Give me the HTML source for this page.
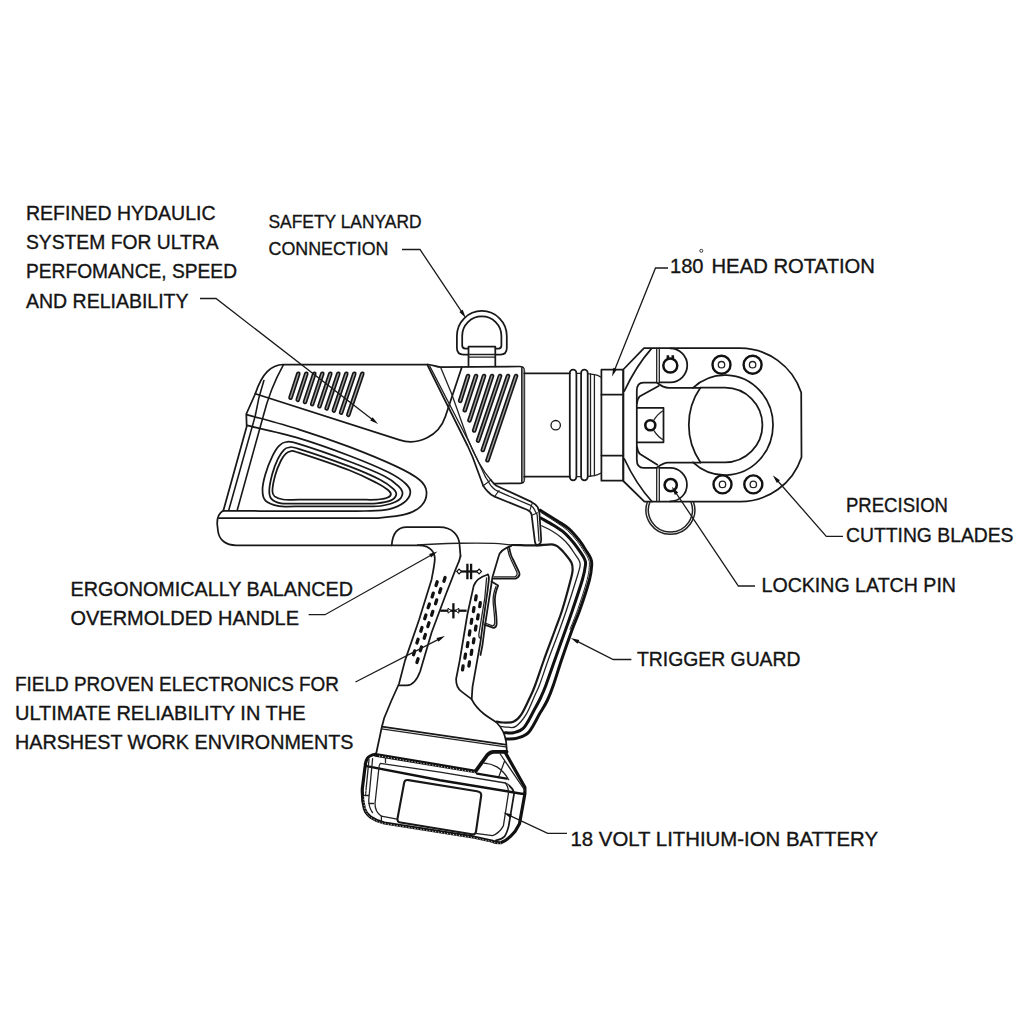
<!DOCTYPE html>
<html>
<head>
<meta charset="utf-8">
<title>Tool diagram</title>
<style>
html,body{margin:0;padding:0;background:#fff;}
body{width:1024px;height:1024px;overflow:hidden;font-family:"Liberation Sans",sans-serif;}
svg{display:block;}
text{font-family:"Liberation Sans",sans-serif;fill:#141414;stroke:#141414;stroke-width:0.35px;}
.ld{fill:none;stroke:#1a1a1a;stroke-width:1.3;}
.ah{fill:#111;stroke:none;}
.o{fill:none;stroke:#181818;stroke-width:1.75;stroke-linecap:round;stroke-linejoin:round;}
.t{fill:none;stroke:#222;stroke-width:1.3;stroke-linecap:round;stroke-linejoin:round;}
.k{fill:none;stroke:#111;stroke-width:2.6;stroke-linecap:round;stroke-linejoin:round;}
.w{fill:#fff;}
</style>
</head>
<body>
<svg width="1024" height="1024" viewBox="0 0 1024 1024">
<rect x="0" y="0" width="1024" height="1024" fill="#ffffff"/>

<!-- ===== LABELS ===== -->
<g id="labels" font-size="20">
<text x="26" y="220" textLength="189.500" lengthAdjust="spacingAndGlyphs">REFINED HYDAULIC</text>
<text x="26" y="249.200" textLength="192.500" lengthAdjust="spacingAndGlyphs">SYSTEM FOR ULTRA</text>
<text x="26" y="278.400" textLength="211" lengthAdjust="spacingAndGlyphs">PERFOMANCE, SPEED</text>
<text x="26" y="307.600" textLength="162.500" lengthAdjust="spacingAndGlyphs">AND RELIABILITY</text>

<text x="268.500" y="228" font-size="19" textLength="153" lengthAdjust="spacingAndGlyphs">SAFETY LANYARD</text>
<text x="268.500" y="254.500" font-size="19" textLength="120" lengthAdjust="spacingAndGlyphs">CONNECTION</text>

<text x="670" y="273" font-size="21" textLength="33.500" lengthAdjust="spacingAndGlyphs">180</text>
<text x="711.500" y="273" font-size="21" textLength="163.500" lengthAdjust="spacingAndGlyphs">HEAD ROTATION</text>

<text x="846" y="512" textLength="102" lengthAdjust="spacingAndGlyphs">PRECISION</text>
<text x="846" y="541.500" textLength="167.500" lengthAdjust="spacingAndGlyphs">CUTTING BLADES</text>
<text x="761.500" y="591.600" textLength="194.500" lengthAdjust="spacingAndGlyphs">LOCKING LATCH PIN</text>
<text x="637" y="666.200" textLength="163.500" lengthAdjust="spacingAndGlyphs">TRIGGER GUARD</text>

<text x="70.500" y="596" textLength="282.500" lengthAdjust="spacingAndGlyphs">ERGONOMICALLY BALANCED</text>
<text x="70.500" y="624.800" textLength="228.500" lengthAdjust="spacingAndGlyphs">OVERMOLDED HANDLE</text>

<text x="15" y="690.900" textLength="324" lengthAdjust="spacingAndGlyphs">FIELD PROVEN ELECTRONICS FOR</text>
<text x="15" y="719.600" textLength="290.500" lengthAdjust="spacingAndGlyphs">ULTIMATE RELIABILITY IN THE</text>
<text x="15" y="748.500" textLength="338.500" lengthAdjust="spacingAndGlyphs">HARSHEST WORK ENVIRONMENTS</text>

<text x="570.500" y="845.600" textLength="307.500" lengthAdjust="spacingAndGlyphs">18 VOLT LITHIUM-ION BATTERY</text>
</g>
<circle cx="701.300" cy="250.800" r="1.500" fill="none" stroke="#222" stroke-width="0.900"/>


<!-- ===== TOOL ===== -->
<g id="tool">
<!-- ===== REAR HOUSING ===== -->
<g id="rear">
<path class="o" d="M428,364.500 L283.500,364.500 C271,365 262,373 255.300,393.750 L246.300,414 L246.700,426.500 L223.400,510.500"/>
<path class="o" d="M223.400,510.500 C219,513 217,518 217.200,524 L218,531 C219,540 226,545.300 236,545.300 L420.600,545.300"/>
<path class="o" style="stroke-width:1.600" d="M263.900,380.500 C259,395 257,405 255.300,415.600 L228.800,510"/>
<path class="o" style="stroke-width:1.600" d="M283.400,364.800 C272,385 266,405 263,417 L237.300,510"/>
<!-- upper ridge + big arc -->
<path class="o" d="M255.300,393.750 L399.300,439.900 A36.600,36.600 0 0 0 445.300,416.700 L461.800,367.300"/>
<!-- raised panel outline + rail line 2 -->
<path class="o" d="M246.8,414.6 C255.4,417.1 281.5,423.9 298.6,429.3 C315.7,434.7 333.1,440.7 349.4,446.9 C365.7,453.1 384.5,460.9 396.2,466.4 C408,471.9 414.7,475.8 419.7,480 C424.7,484.2 426.2,487.6 426.5,491.8 C426.8,496.1 425,501.8 421.6,505.5 C418.2,509.2 412.9,512.2 406,514.2 C399.1,516.3 389.3,517.1 380,517.8 C370.7,518.5 363.3,518.1 350,518.2 C336.7,518.3 315,518.2 300,518.2 C285,518.2 273.5,518.2 260,518.2 C246.5,518.2 225.8,518.2 219,518.2"/>
<!-- W4 + rail top -->
<path class="o" d="M246.8,425.4 C255.4,427.5 281.5,433.1 298.6,438.1 C315.7,443.2 334.4,450 349.4,455.7 C364.4,461.4 379.1,467.6 388.5,472.3 C397.9,477 402.4,480.6 406,484 C409.6,487.4 410.6,489.7 410.3,492.8 C410,495.9 407.6,499.7 404,502.5 C400.4,505.3 394.9,508 388.4,509.4 C381.9,510.8 373.1,510.7 365,511 C356.9,511.3 350.8,511 340,511 C329.2,511 313.3,511 300,511 C286.7,511 272.8,511 260,511 C247.2,511 229.5,510.8 223.4,510.8"/>
<!-- W3 -->
<path class="o" d="M262.5,489.8 C262.5,485.4 263.8,479.7 265.4,474.2 C267,468.7 269.9,461.3 272.2,456.6 C274.5,451.9 276.7,448.3 279,445.9 C281.3,443.5 282.6,442.3 285.9,442 C289.2,441.7 288,440.6 298.6,443.9 C309.2,447.1 335.1,456.1 349.4,461.5 C363.7,466.9 376.4,472.1 384.5,476.2 C392.6,480.3 395.2,483 398.2,485.9 C401.2,488.8 402.8,491.1 402.5,493.8 C402.2,496.4 399.9,499.6 396.2,501.6 C392.6,503.6 385.8,505.2 380.6,506 C375.4,506.8 373.4,506.3 365,506.4 C356.6,506.5 341.7,506.4 330,506.4 C318.3,506.4 303.5,506.4 295,506.4 C286.5,506.4 283.9,507.2 279,506.2 C274.1,505.2 268.1,503.3 265.4,500.6 C262.6,497.9 262.5,494.2 262.5,489.8 Z"/>
<!-- W2 -->
<path class="o" d="M269.3,489.8 C269.5,485.7 270.8,479.4 272.2,474.2 C273.6,469 276,462.7 278,458.6 C280,454.5 282.2,451.7 284,449.8 C285.8,447.9 286.4,447.7 288.8,447.5 C291.2,447.3 288.5,445.7 298.6,448.8 C308.7,451.9 335.7,461.2 349.4,466.4 C363.1,471.6 373.3,476.2 380.6,480 C387.9,483.8 390.7,486.4 393.3,488.9 C395.9,491.3 396.7,492.8 396.2,494.7 C395.8,496.6 393.7,499.2 390.4,500.6 C387.1,502 381.8,502.8 376.7,503.3 C371.6,503.8 367.8,503.5 360,503.5 C352.2,503.5 340.5,503.5 330,503.5 C319.5,503.5 305.2,503.5 297,503.5 C288.8,503.5 285.3,504.1 281,503.3 C276.7,502.5 273.2,500.9 271.2,498.6 C269.3,496.4 269.1,493.9 269.3,489.8 Z"/>
<!-- W1 -->
<path class="o" d="M272.4,490.8 C272.5,487.3 273.8,480.2 275.2,475.2 C276.6,470.1 279.2,464.1 281,460.5 C282.8,456.9 284.3,455.2 285.9,453.7 C287.5,452.2 288.3,451.6 290.4,451.4 C292.5,451.2 288.8,449.5 298.6,452.7 C308.4,455.9 336.3,465.2 349.4,470.3 C362.4,475.4 370.6,479.8 376.9,483 C383.2,486.2 385.1,487.7 387.4,489.5 C389.7,491.3 390.9,492.6 390.9,494 C390.9,495.4 389.5,496.9 387.2,497.8 C384.9,498.7 381.4,499.3 376.9,499.6 C372.4,499.9 367.8,499.7 360,499.7 C352.2,499.7 340.2,499.7 330,499.7 C319.8,499.7 306.8,499.7 299,499.7 C291.2,499.7 287.1,500.1 283,499.5 C278.9,498.9 276.4,497.8 274.6,496.4 C272.8,494.9 272.3,494.3 272.4,490.8 Z"/>
<!-- bump above handle -->
<path class="o" d="M391.700,545.300 C392.500,535 397,527.200 406.600,527.200 L439.400,527.200 C452,527.200 459.700,535 459.700,546.600 L460.500,556"/>
<!-- rear vents -->
<g id="rvents">
<path d="M298.3,373.8 L290.5,397.7 M306.3,373.8 L297.73,399.84 M314.3,373.8 L304.95,401.98 M322.3,373.8 L312.18,404.12 M330.3,373.8 L319.4,406.26 M338.3,373.8 L326.62,408.4 M346.3,373.8 L333.85,410.54 M354.3,373.8 L341.07,412.68 M362.3,373.8 L348.3,414.82" fill="none" stroke="#161616" stroke-width="4.6" stroke-linecap="round"/>
<path d="M298.3,373.8 L290.5,397.7 M306.3,373.8 L297.73,399.84 M314.3,373.8 L304.95,401.98 M322.3,373.8 L312.18,404.12 M330.3,373.8 L319.4,406.26 M338.3,373.8 L326.62,408.4 M346.3,373.8 L333.85,410.54 M354.3,373.8 L341.07,412.68 M362.3,373.8 L348.3,414.82" fill="none" stroke="#a0a0a0" stroke-width="1.3" stroke-linecap="round"/>
</g>
</g>

<!-- ===== FRONT BLOCK / SEPARATION LINES ===== -->
<g id="front">
<path class="o" d="M428,364.500 C433,364.800 436,366.800 440.600,367.200 L519.500,366.500 Q524.300,366.500 524.300,371 L524.300,479 Q524.300,483.300 520,483.300 L493.750,483.600"/>
<rect x="521.700" y="368.500" width="2.600" height="113" fill="#8c8c8c"/>
<path class="t" d="M521.700,368 L521.700,482"/>
<path class="o" d="M427.600,365.400 L467.700,446 L472.600,457 L483.200,485.700"/>
<path class="t" d="M429.600,365.900 L470,444 L485.500,477"/>
<path class="t" d="M440.600,367.200 L451.600,393.750 L467.200,437.500 C475,457 482,470 490.600,479.700"/>
<g id="fvents">
<path d="M468,376 L460.2,400.8 M476,376 L464.8,410.2 M484,376 L469.5,420.3 M492,376 L474.2,430.5 M500,376 L478.1,440.6 M508,376 L482.8,450 M516,376 L487.5,460.2" fill="none" stroke="#161616" stroke-width="4.6" stroke-linecap="round"/>
<path d="M468,376 L460.2,400.8 M476,376 L464.8,410.2 M484,376 L469.5,420.3 M492,376 L474.2,430.5 M500,376 L478.1,440.6 M508,376 L482.8,450 M516,376 L487.5,460.2" fill="none" stroke="#a0a0a0" stroke-width="1.3" stroke-linecap="round"/>
</g>
</g>

<!-- ===== LANYARD RING ===== -->
<g id="lanyard">
<path class="o" d="M468.500,366.300 L468.500,346.600 L495.300,346.600 L495.300,366.300"/>
<path class="t" d="M468.500,354.500 H495.300 M468.500,357.100 H495.300"/>
<path class="o" d="M468.200,354.500 L463.500,354.500 Q456.900,354.500 456.900,348 L456.900,335.900 A24.950,24.950 0 0 1 506.800,335.900 L506.800,348 Q506.800,354.500 500.500,354.500 L495.500,354.500"/>
<path class="o" d="M468.200,348.500 L465.500,348.500 Q462.200,348.500 462.200,345.500 L462.200,335.900 A19.600,19.600 0 0 1 501.400,335.900 L501.400,345.500 Q501.400,348.500 498.500,348.500 L495.500,348.500"/>
</g>

<!-- ===== CYLINDER / RINGS / NUT ===== -->
<g id="cyl">
<path class="o" d="M524.300,373.300 H569.800 M524.300,476.700 H569.800"/>
<circle class="o" cx="555.700" cy="425.200" r="4.700" style="stroke-width:1.300"/>
<rect class="o" x="569.800" y="369.700" width="6.600" height="110.600" rx="3.300"/>
<rect class="o" x="581.100" y="369.700" width="6.600" height="110.600" rx="3.300"/>
<path class="t" d="M576.400,373.300 H581.100 M576.400,476.700 H581.100"/>
<path class="t" d="M587.700,373.600 L594.400,374.700 V475.600 L587.700,476.500"/>
<path class="t" d="M594.400,374.700 Q598,375.200 600.600,377 M594.400,475.600 Q598,475 600.600,473.300"/>
<path class="t" d="M590.500,374 V476"/>
<rect class="o" x="601.400" y="369.700" width="21.900" height="111" />
<path class="o" d="M601.400,394.700 H623.300 M601.400,455.600 H623.300"/>
</g>

<!-- ===== HEAD ===== -->
<g id="head">
<path class="o" d="M644,348.200 L739.700,348.200 A64.500,64.500 0 0 1 801.200,392.600 L801.500,457.200 A64.500,64.500 0 0 1 739.700,501.600 L644.400,501.600 L623.300,481 L623.300,369.500 Z"/>
<path class="o" d="M651.250,348.800 Q636,366 624.400,391 M624.400,459 Q636,484 651.900,501.500"/>
<path class="t" d="M656.700,348.200 V382.500 M659.300,348.200 V382.500 M656.700,467.600 V501.600 M659.300,467.600 V501.600"/>
<path class="o" d="M659.300,382.300 H670.300 A16.650,16.650 0 0 0 670.300,348.400"/>
<path class="o" d="M659.300,467.900 H670.200 A16.650,16.650 0 0 1 670.200,501.400"/>
<path class="o" d="M656.700,382.500 H643.500 Q636.800,382.500 636.800,390.800 V459.500 Q636.800,467.900 643.500,467.900 H656.700"/>
<path class="o" d="M657.500,383 C661,386 664,387.800 669,387.800 H700.500 M657.300,467.300 C661,464.500 664,462.500 668,462.500 H700.500"/>
<path class="o" d="M658.600,385.900 L639.500,396.600 Q637.600,398.500 637,403.500 M637,447 Q637.800,452 640,454 L657.300,464.700"/>
<path class="o" d="M637,407.900 H663.500 V442.300 H637"/>
<circle class="k" cx="650.300" cy="425.300" r="5"/>
<path class="t" d="M653.900,420 Q658,413.500 663.500,410.500 M653.900,430.600 Q658,437 663.500,440"/>
<path class="o" d="M700.500,387.600 H725 A37.400,37.400 0 0 1 725,462.400 H700.500"/>
<path class="o" d="M700.500,387.600 A65.700,65.700 0 0 0 700.500,462.400"/>
<path class="o" d="M693,387.800 A48,50 0 1 1 693,462.300"/>
<circle class="k" cx="670.300" cy="365.600" r="7" style="stroke-width:2.500"/>
<path d="M666.600,355.300 h2.600 v3 h-2.600z M671.500,355.300 h2.600 v3 h-2.600z" fill="#111"/>
<circle class="k" cx="670.700" cy="485.100" r="6.100" style="stroke-width:2.600"/>
<g class="k" style="stroke-width:2.400">
<circle cx="721.500" cy="364.700" r="9"/><circle cx="752.600" cy="364.700" r="9"/>
<circle cx="722.500" cy="484.400" r="9"/><circle cx="753.300" cy="484.400" r="9"/>
</g>
<g class="t" style="stroke-width:1.300">
<circle cx="721.500" cy="364.700" r="3.200"/><circle cx="752.600" cy="364.700" r="3.200"/>
<circle cx="722.500" cy="484.400" r="3.200"/><circle cx="753.300" cy="484.400" r="3.200"/>
</g>
<path class="t" d="M647.400,501.800 A24.400,24.400 0 1 0 693.400,501.800 M650,501.800 A22,22 0 1 0 690.800,501.800" style="stroke-width:1.500"/>
</g>
<!-- ===== HANDLE ===== -->
<g id="handle">
<path class="o" d="M420.600,545.300 C430,546 435.500,552 434.700,560.600 C434,568 432.500,574 431.600,579.400 L419,620 L405,660.600 L399,683.750 L391.250,701 L384.200,718 L381.900,726.700 L376.400,752.500"/>
<path class="o" d="M460.500,556 C459.500,561 458,564 456.600,566.900 L445.600,595 L431.600,632.500 L420.200,671.250 C417,680 413,685.300 406.900,685.300 L399,685.300"/>
<path class="t" d="M417.500,545 C440,543.200 480,542.600 499,543.600 L512,545"/>
<!-- right panel -->
<path class="o" d="M487.800,574.500 C480,577 475.500,581 473.750,585.600 L467.500,613.750 L459.700,660.600 L456.100,679 C456,685 458,689 461.600,691.600 L470.900,698.600"/>
<path class="o" d="M487.800,574.500 Q489.300,576 488.800,580 L487.600,590.300 L482.500,626.200 L480.500,642 L472.500,686.900 L471.700,699.400"/>
<path class="t" d="M486.600,578 L484.800,598 L478.800,634.500 Q478.800,638.500 480.600,638"/>
<!-- front of handle -->
<path class="o" d="M511.250,545.800 C505,548 500,551 498.750,556 L492.500,577 L484.900,626.200 L482.500,645 L480.500,655"/>
<path class="o" d="M471.700,699.400 C475,706 479,710 484,714 C489,718 494,720 497,723 C502,728 505,735 506.100,741.600 L506.900,751.700"/>
<!-- trigger beak -->
<path class="o" d="M509,546.600 C510,552 511,556 512.800,559 L519,572 Q520.800,576 516,578.600 L493.500,578.600"/>
<path class="t" d="M507.500,548 C508.500,553 509.500,557 511.200,560 L516.800,572 Q518,575.500 515,576.800 L494,576.800"/>
<!-- trigger -->
<path class="o" d="M491.500,581.500 L498.100,585.600 C495.500,592 494.500,598 495,602.800 C495.500,610 497,617 496.600,624.700 Q496,627.500 493.400,627.800 L484.500,624.700"/>
<path class="t" d="M496,586.500 C493.800,592 492.800,598 493.200,602.800 C493.700,610 495,617 494.700,623.500 Q494.200,625.800 492.500,625.800 L485,623"/>
<!-- symbols -->
<g id="sym">
<path d="M459.500,571.500 H478.700" class="k" style="stroke-width:2.300;stroke-linecap:butt"/>
<path d="M456.700,571.500 l2.400,-2.500 l2.400,2.500 l-2.400,2.500z M481.500,571.500 l-2.400,-2.500 l-2.400,2.500 l2.400,2.500z" fill="#fff" stroke="#111" stroke-width="1.100"/>
<path d="M467.400,563.700 V579.300 M471.100,563.700 V579.300" class="k" style="stroke-width:2.300;stroke-linecap:butt"/>
<path d="M440.250,610.700 H466.600" class="k" style="stroke-width:2.300;stroke-linecap:butt"/>
<path d="M453.400,603.200 V618.400" class="k" style="stroke-width:2.300;stroke-linecap:butt"/>
<path d="M448,608.200 l3.200,2.500 l-3.200,2.500z M458.800,608.200 l-3.200,2.500 l3.200,2.500z" fill="#fff" stroke="#111" stroke-width="1"/>
</g>
<path d="M437.2,581.7 L436,585.5 M433.3,593.1 L432.1,596.9 M429.4,604 L428.1,607.8 M425.9,615 L424.7,618.8 M422,627.5 L420.8,631.3 M418.1,639.2 L416.9,643 M414.7,650.9 L413.5,654.7 M445.1,577.5 L443.9,581.3 M440.8,588.8 L439.6,592.6 M436.7,599.9 L435.5,603.7 M432.8,611.4 L431.6,615.2 M429,622.8 L427.8,626.6 M425.4,634.5 L424.2,638.3 M421.5,647 L420.3,650.8 M418.1,658.7 L416.9,662.5" fill="none" stroke="#111" stroke-width="3.300" stroke-linecap="round"/>
<path d="M476.2,595.9 L475.6,599.9 M474,607.6 L473.4,611.6 M471.8,619.3 L471.2,623.3 M469.9,631 L469.3,635 M467.9,642.7 L467.3,646.7 M465.5,654.2 L464.9,658.2 M463.1,665.9 L462.5,669.9 M480.3,602.7 L479.7,606.7 M478.2,614.9 L477.6,618.9 M476,626.1 L475.4,630.1 M474,638.8 L473.4,642.8 M471.8,650.4 L471.2,654.4 M469.5,662 L468.9,666" fill="none" stroke="#111" stroke-width="3.300" stroke-linecap="round"/>
<!-- collar -->
<path class="o" d="M381.900,726.700 L505.300,744.700"/>
<path class="t" d="M381.500,728.900 L505.600,746.900"/>
<path class="k" style="stroke-width:3.800" d="M375.500,754.800 L475.400,771.500 L487.300,755 Q490,752 493.700,751.800 L506.600,751.800"/>
</g>
<!-- ===== GUARD ===== -->
<g id="guard">
<!-- upper arm -->
<path class="o" d="M490.600,479.700 Q493.500,483.500 496.400,485.700 L531.500,501.900 Q536.300,504.500 537.700,507.200 L539.400,512.500 L541.200,539.700 Q541.200,543 539.400,544.100 L536.800,545.400"/>
<path class="o" d="M483.200,485.700 Q485,489 487.600,491.400 Q490.500,494.800 494.600,496.600 L527.100,509.800 Q530.800,511.500 531.500,514.200 L535,542.300 Q535.500,544.500 536.800,545.400"/>
<path class="t" d="M485.500,477 L488.500,481.700 Q490.500,485.500 492.800,487.800 Q495,490 498.100,491.400 L530.600,505.400 Q533.800,507.500 535,510.700 L537.200,515 L539,541"/>
<path class="t" d="M483.200,485.700 L491.100,479.900 M494.600,496.600 L499,490.500 M529.700,510.800 L532.400,502.600 M532.400,515 L537.700,512.800" style="stroke-width:1.100"/>
<path class="k" style="stroke-width:3" d="M540.2,510.2 C543.1,512 552.7,517.9 557.5,521 C562.3,524.1 565.4,525.7 569,528.9 C572.6,532.1 576.1,536.4 579,540 C581.9,543.6 584.3,547.8 586.2,550.8 C588.2,553.8 589.6,555.7 590.5,558 C591.4,560.3 591.9,561.1 591.7,564.8 C591.5,568.5 591.4,572.5 589.4,580 C587.4,587.5 582.7,601.7 579.8,610 C576.9,618.3 575,621.7 572,630 C569,638.3 564.6,650.8 561.5,660 C558.4,669.2 555.7,678.3 553.4,685 C551.1,691.7 549.7,695.3 547.5,700 C545.3,704.7 543.1,707.8 540,713.1 C536.9,718.4 532.8,727.7 529,731.9 C525.2,736.1 521.1,736.9 517.3,738.1 C513.5,739.3 508.2,738.8 506.4,738.9"/>
<path class="t" style="stroke-width:1" d="M541,512.5 C543.7,514.2 552.6,519.8 557,522.8 C561.4,525.8 564.1,527.4 567.5,530.5 C570.9,533.6 574.4,537.7 577.2,541.2 C580,544.8 582.4,548.9 584.3,551.8 C586.1,554.7 587.4,556.4 588.3,558.6 C589.1,560.8 589.6,561.3 589.4,564.8 C589.2,568.3 589.1,572.1 587.2,579.5 C585.3,586.9 580.7,601 577.8,609.3 C574.9,617.6 571.3,626 570,629.4"/>
<path class="k" style="stroke-width:3" d="M540.9,518 C542.9,519.2 549.1,522.5 553,525 C556.9,527.5 561.1,530 564.4,532.8 C567.7,535.6 570.4,538.9 573,542 C575.6,545.1 578.1,548.8 580,551.6 C581.9,554.4 583.6,556.8 584.5,559 C585.4,561.2 585.9,561.3 585.5,564.8 C585.1,568.3 584.5,572.5 582.3,580 C580.1,587.5 575.3,601.7 572.5,610 C569.7,618.3 568.5,621.7 565.5,630 C562.5,638.3 558,650.8 554.8,660 C551.5,669.2 548.3,678.8 546,685 C543.7,691.2 543,692.7 541,697 C539,701.3 536.6,705.6 533.8,710.8 C530.9,716 527,724.4 523.6,728 C520.2,731.6 516.5,731.9 513.4,732.7 C510.3,733.5 506.2,732.7 504.8,732.7"/>
<path class="t" d="M541.7,525.8 C543.4,526.7 548.7,529 552,531 C555.3,533 558.4,535.1 561.2,537.5 C564.1,539.9 566.7,542.6 569,545.5 C571.3,548.4 573.6,552.1 575.3,554.7 C577,557.3 578.5,559 579.3,561 C580.1,563 580.5,563.2 580,566.4 C579.5,569.6 578.4,572.7 576.1,580 C573.9,587.3 569.3,601.7 566.5,610 C563.7,618.3 562.5,621.7 559.5,630 C556.5,638.3 551.5,650.8 548.2,660 C544.9,669.2 541.7,679.2 539.5,685 C537.3,690.8 537.2,690 535,695 C532.8,700 529.2,709.5 526,714.7 C522.8,719.9 518.8,724.3 515.8,726.4 C512.8,728.5 510.6,727.2 508,727.2 C505.4,727.2 501.5,726.5 500.2,726.4"/>
<!-- opening outline -->
<path class="o" style="stroke-width:2.200" d="M512,545 C514.2,545 520.8,545.2 525,545.3 C529.2,545.4 532.7,545.6 537,545.4 C541.3,545.2 547.8,544.3 551,544.3 C554.2,544.3 554.5,544.9 556,545.6 C557.5,546.3 558.6,547.2 560,548.5 C561.4,549.8 562.5,550.8 564.4,553.1 C566.3,555.4 570,559.6 571.4,562.5 C572.8,565.4 572.7,567.4 572.6,570.3 C572.5,573.2 572.3,573.4 570.6,580 C568.9,586.6 564.8,601.7 562.2,610 C559.6,618.3 558,621.7 555,630 C552,638.3 547.2,650.8 543.9,660 C540.6,669.2 537.4,679.2 535.2,685 C533.1,690.8 533.3,690 531,695 C528.7,700 524.2,710.2 521.2,714.7 C518.3,719.2 516.4,720.4 513.4,721.7 C510.4,723 505.8,722.5 503,722.5 C500.2,722.5 497.7,721.8 496.6,721.7"/>
</g>
<!-- ===== BATTERY ===== -->
<g id="battery">
<path class="k" style="stroke-width:3.200" d="M375.500,754.200 Q369,755.500 367.700,758 Q365.500,761 365.250,765.400 L362.300,788.800 Q362,800 364.300,808.400 Q366,814 370.600,817.100 Q377,821.500 384.300,823 L474.400,837.200 L491.600,841 Q497,843.300 501.200,842.600 Q508,840 515.200,831.300 L519.500,823.800 L524.900,793.700 L524.900,787.300 L505.500,752.900"/>
<path class="k" style="stroke-width:2.400" d="M365.250,765.900 L440,780.300 L521.600,793.700 L524.900,793.700"/>
<path class="t" d="M378.900,768.300 Q378.900,765 380.400,763.400 L440,772.200 L505.500,783 Q508.500,784 509.800,786.200"/>
<path class="t" d="M385.500,758.500 V762.500"/>
<path class="t" d="M378.900,768.300 L375,803.500 Q375,812 381.400,816.200 L397,819.100 M475.400,833.400 L492.600,835.600 Q499.100,833.400 503.400,825.900 L508.700,791.600 Q508,786 505.500,783"/>
<path class="o" d="M509.800,786.200 Q513.500,789 514.100,793.700 L508.700,825.900 Q507,833 504.400,836.700 Q501,840 495.900,840.400"/>
<path class="o" style="stroke-width:2.100" d="M408.500,780.100 L477,791.200 Q481.600,792 481.200,795.500 L476,831.500 Q475.500,834.800 472,834.200 L400.500,822.500 Q397,822 397.500,818.500 L404.200,782.500 Q404.800,779.500 408.500,780.100 Z"/>
<path class="t" d="M372.600,758.600 L368.700,800.500 Q369,808 372.500,812.500 M369,759.500 L365.500,795 M364.500,795.500 H368.800 M368.700,803.500 H373.500 M381.400,816.200 V821"/>
<path class="t" d="M484,763.100 Q491,763.500 496.900,766.900 Q504,771.500 508.700,779.700 M504.400,761.500 L498.500,777.600 M500.200,754 L524.900,790.500"/>
<path d="M366,790 Q362.500,800 365,808.800 Q366.500,814.500 371,817.600 Q377,822 384.300,823.600 L474.400,837.800 L491.600,841.600 Q497,843.800 501,843.100" fill="none" stroke="#fff" stroke-width="0.800" stroke-dasharray="1.200 1.800"/>
<path d="M379,756 L475,772.300 M478,774.300 L506,779" fill="none" stroke="#fff" stroke-width="0.800" stroke-dasharray="1.200 1.800"/>
<path class="k" style="stroke-width:2.200" d="M477,773.600 L506.600,778.700"/>
</g>
</g>
<!-- ===== LEADERS ===== -->
<g id="leaders" class="ld">
<path d="M200,298.5 L216,298.5 L374.9,421.6"/>
<path d="M402,249.5 L420,249.5 L463.6,314.7"/>
<path d="M668,268 L655.5,268 L613.5,372.7"/>
<path d="M843,536.4 L826.3,536.4 L775.4,478.2"/>
<path d="M755,586 L738.4,586 L674,490"/>
<path d="M631.4,659.5 L613.2,659.5 L574.4,639.9"/>
<path d="M308.6,614.7 L325,614.7 L434,553.5"/>
<path d="M355.5,682 L441.4,637.8"/>
<path d="M567,833.3 L547.7,833.3 L507,814.2"/>
</g>
<path class="ah" d="M378.1,424 L372.6,417.2 L370.2,420.4 Z M465.8,318 L462.7,309.8 L459.4,312 Z M612,376.4 L617,369.3 L613.3,367.8 Z M772.8,475.2 L776.9,482.9 L779.9,480.3 Z M671.8,486.7 L674.9,494.9 L678.2,492.6 Z M570.8,638.1 L577.5,643.7 L579.3,640.1 Z M437.5,551.5 L429.1,553.9 L431.1,557.4 Z M445,636 L436.5,638.1 L438.4,641.7 Z M503.4,812.5 L510.2,817.9 L511.9,814.3 Z"/>
</svg>
</body>
</html>
